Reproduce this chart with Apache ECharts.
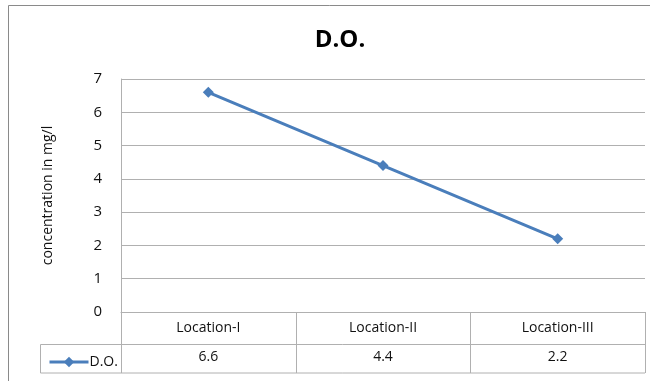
<!DOCTYPE html>
<html><head><meta charset="utf-8">
<script src="https://cdn.jsdelivr.net/npm/echarts@6/dist/echarts.min.js"></script>
<style>html,body{margin:0;padding:0;background:#fff}#c{width:654px;height:381px}</style>
</head><body><div id="c"></div>
<script>
const categories = ['Location-I', 'Location-II', 'Location-III'];
const seriesName = 'D.O.';
const values = [6.6, 4.4, 2.2];
const yTicks = [0, 1, 2, 3, 4, 5, 6, 7];
const titleText = 'D.O.';
const yAxisName = 'concentration in mg/l';

const FONT = 'Open Sans';
const GRID = {left: 121, right: 9, top: 79, bottom: 69};
const W = 654, H = 381;
const x0 = GRID.left, x1 = W - GRID.right;
const row0 = H - GRID.bottom, row1 = 344.5, row2 = 373;
const lineCol = '#b0b0b0';
const n = categories.length;
const colW = (x1 - x0) / n;

const g = [];
g.push({type:'polyline', shape:{points:[[8.5,381],[8.5,5.5],[650,5.5]]}, style:{stroke:'#8a8a8a', lineWidth:1, fill:null}, z:0});
g.push({type:'line', shape:{x1:40.5,y1:row1,x2:x1,y2:row1}, style:{stroke:lineCol,lineWidth:1}});
g.push({type:'line', shape:{x1:40.5,y1:row2,x2:x1,y2:row2}, style:{stroke:lineCol,lineWidth:1}});
g.push({type:'line', shape:{x1:40.5,y1:row1,x2:40.5,y2:row2}, style:{stroke:lineCol,lineWidth:1}});
for (let i = 0; i <= n; i++) {
  const x = Math.round(x0 + i*colW) + 0.5;
  g.push({type:'line', shape:{x1:x,y1:row0,x2:x,y2:row2}, style:{stroke:lineCol,lineWidth:1}});
}

const chart = echarts.init(document.getElementById('c'), null, {renderer:'canvas'});
chart.setOption({
  animation: false,
  backgroundColor: '#fff',
  title: {text: titleText, left: 335, top: 23, textAlign: 'center',
    textStyle: {fontFamily: FONT, fontSize: 24, fontWeight: 'bold', color: '#000'}},
  grid: GRID,
  legend: {show: true, left: 43, top: 350, itemWidth: 39, itemHeight: 13, itemGap: 0,
    data: [seriesName],
    lineStyle: {width: 3},
    textStyle: {fontFamily: FONT, fontSize: 14, color: '#111', padding: [0,0,0,-4]}},
  xAxis: [{
    type: 'category', data: categories, boundaryGap: true, position: 'bottom',
    axisLine: {show: true, lineStyle: {color: lineCol}}, axisTick: {show: false},
    axisLabel: {fontFamily: FONT, fontSize: 14, color: '#111', margin: 9},
  }, {
    type: 'category', data: values.map(v => v.toFixed(1)), boundaryGap: true, position: 'bottom', offset: 33,
    axisLine: {show: false}, axisTick: {show: false},
    axisLabel: {fontFamily: FONT, fontSize: 14, color: '#111', margin: 5},
  }],
  yAxis: {
    type: 'value', min: yTicks[0], max: yTicks[yTicks.length-1], interval: 1,
    name: yAxisName, nameLocation: 'middle', nameGap: 66, nameRotate: 90,
    nameTextStyle: {fontFamily: FONT, fontSize: 14, color: '#111'},
    axisLine: {show: true, lineStyle: {color: lineCol}}, axisTick: {show: false},
    axisLabel: {fontFamily: FONT, fontSize: 15, color: '#111', margin: 19},
    splitLine: {show: true, lineStyle: {color: lineCol}}
  },
  series: [{
    name: seriesName, type: 'line', data: values, xAxisIndex: 0,
    symbol: 'diamond', symbolSize: 11,
    lineStyle: {color: '#4a7ebb', width: 3},
    itemStyle: {color: '#4a7ebb'}
  }],
  graphic: g
});
</script></body></html>
